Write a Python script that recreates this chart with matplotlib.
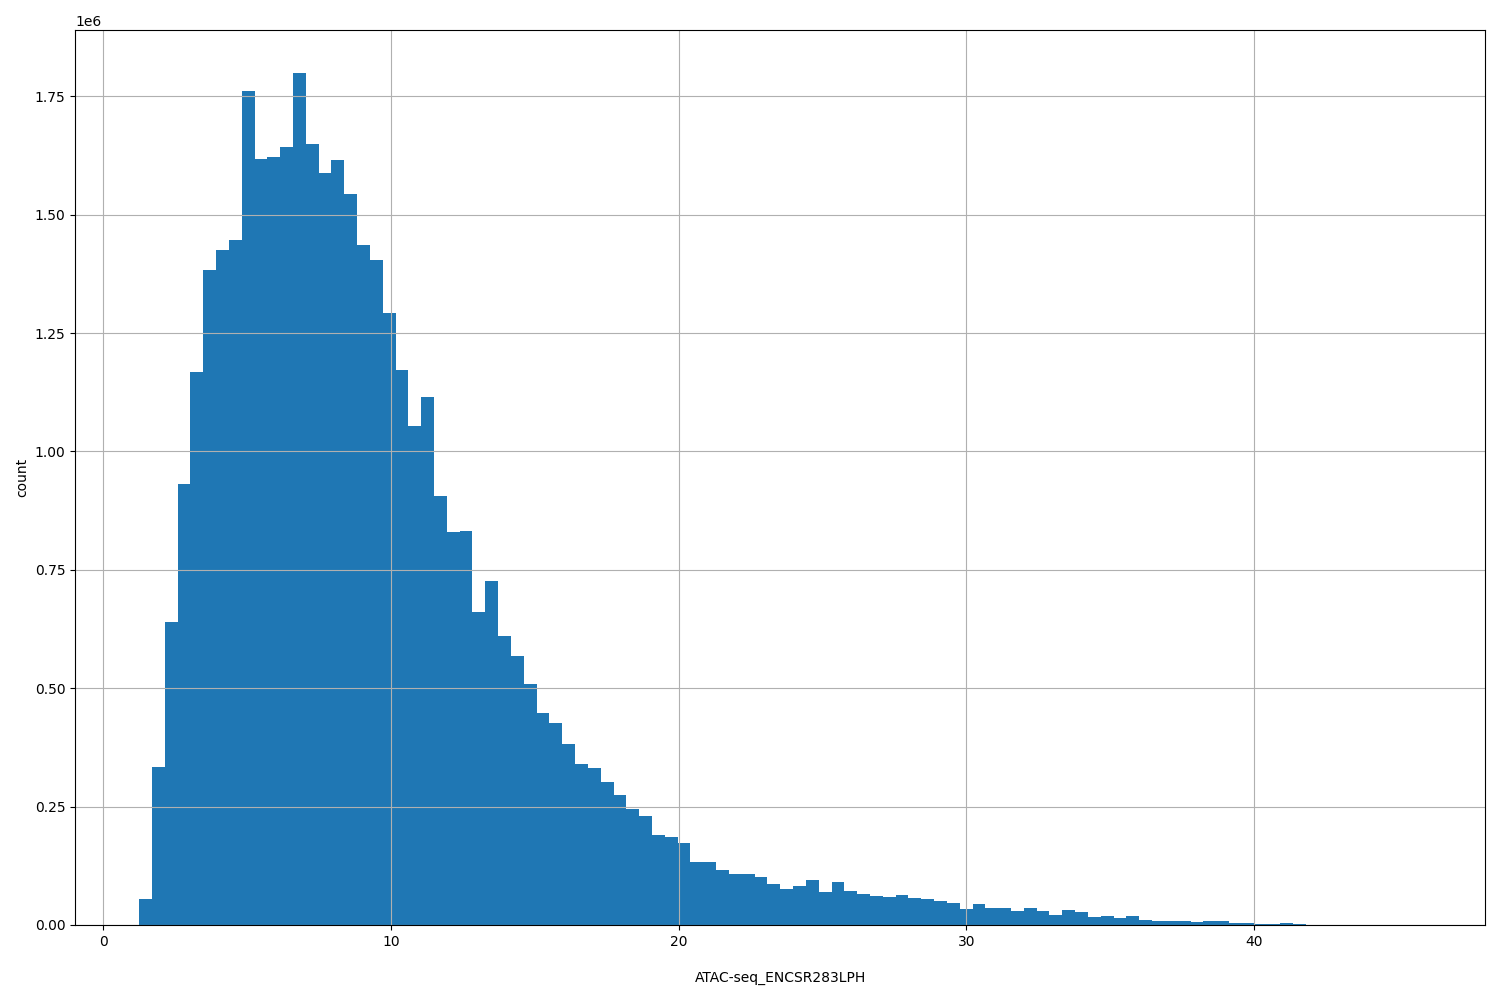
import numpy as np
from matplotlib import pyplot as plt

# bin range: 100 equal bins
bin_lo = 1.245
bin_hi = 45.81
n_bins = 100

# counts per bin (millions), left to right
counts_m = [
    0.054, 0.334, 0.640, 0.931, 1.168, 1.384, 1.426, 1.447, 1.762, 1.618,
    1.621, 1.643, 1.800, 1.650, 1.589, 1.616, 1.544, 1.436, 1.405, 1.293,
    1.173, 1.053, 1.114, 0.905, 0.829, 0.831, 0.662, 0.727, 0.611, 0.569,
    0.509, 0.448, 0.427, 0.383, 0.341, 0.332, 0.303, 0.275, 0.246, 0.231,
    0.191, 0.185, 0.174, 0.132, 0.132, 0.117, 0.107, 0.107, 0.102, 0.087,
    0.077, 0.083, 0.094, 0.070, 0.0915, 0.0725, 0.066, 0.062, 0.060, 0.064,
    0.058, 0.0556, 0.0514, 0.047, 0.0345, 0.045, 0.0366, 0.0366, 0.030, 0.0366,
    0.030, 0.021, 0.0317, 0.0275, 0.0169, 0.019, 0.0148, 0.019, 0.0106, 0.0085,
    0.0085, 0.0085, 0.0063, 0.0085, 0.0085, 0.0042, 0.0042, 0.0020, 0.0020, 0.0035,
    0.0014, 0.0004, 0.0003, 0.0002, 0.0002, 0.0001, 0.0001, 0.00005, 0.00003, 0.000001,
]

xlabel = "ATAC-seq_ENCSR283LPH"
ylabel = "count"

edges = np.linspace(bin_lo, bin_hi, n_bins + 1)
counts = np.array(counts_m) * 1e6

fig, ax = plt.subplots(figsize=(15, 10), dpi=100)
fig.subplots_adjust(left=0.05, right=0.9903, bottom=0.075, top=0.97)

ax.hist(edges[:-1], bins=edges, weights=counts, color="#1f77b4")
ax.grid(True)
ax.set_xlabel(xlabel, labelpad=16)
ax.set_ylabel(ylabel)

fig.savefig("out.png", dpi=100)
